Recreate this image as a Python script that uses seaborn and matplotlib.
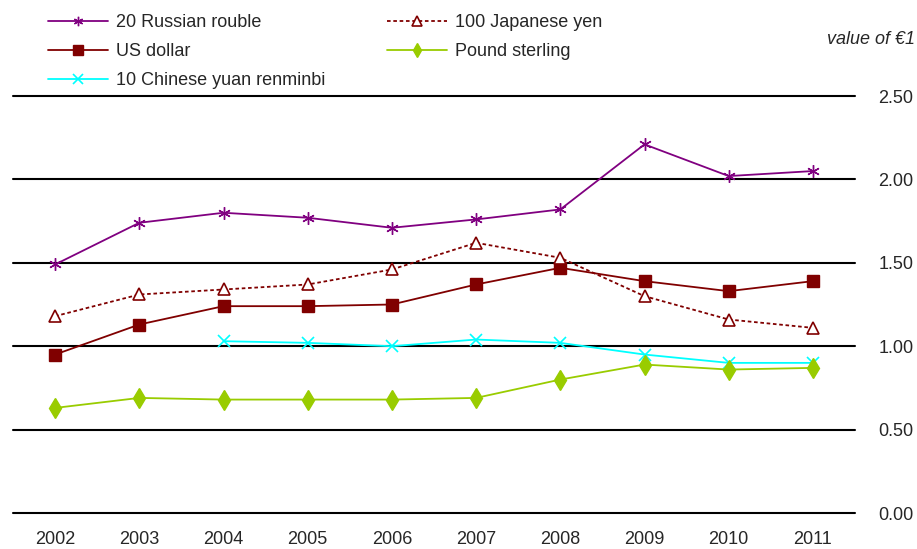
import matplotlib
matplotlib.use('Agg')

import numpy as np
import pandas as pd
import seaborn as sns
import matplotlib.pyplot as plt

years = [2002, 2003, 2004, 2005, 2006, 2007, 2008, 2009, 2010, 2011]
rouble_20 = [1.49, 1.74, 1.80, 1.77, 1.71, 1.76, 1.82, 2.21, 2.02, 2.05]
yen_100 = [1.18, 1.31, 1.34, 1.37, 1.46, 1.62, 1.53, 1.30, 1.16, 1.11]
us_dollar = [0.95, 1.13, 1.24, 1.24, 1.25, 1.37, 1.47, 1.39, 1.33, 1.39]
pound = [0.63, 0.69, 0.68, 0.68, 0.68, 0.69, 0.80, 0.89, 0.86, 0.87]
yuan_10 = [np.nan, np.nan, 1.03, 1.02, 1.00, 1.04, 1.02, 0.95, 0.90, 0.90]

series = [
    # name, values, colour, marker, linestyle, marker face
    ('20 Russian rouble', rouble_20, '#800080', (6, 2, 0), '-', None),
    ('US dollar', us_dollar, '#800000', 's', '-', None),
    ('10 Chinese yuan renminbi', yuan_10, '#00FFFF', 'x', '-', None),
    ('100 Japanese yen', yen_100, '#800000', '^', (0, (2, 1.5)), 'white'),
    ('Pound sterling', pound, '#99CC00', 'd', '-', None),
]

sns.set_style('white')
plt.rcParams['font.family'] = ['Liberation Sans', 'DejaVu Sans']
FS = 13

fig = plt.figure(figsize=(9.17, 5.49), dpi=100)
ax = fig.add_axes([13 / 917, 1 - 513 / 549, 842 / 917, 417 / 549])

pos = np.arange(len(years))
for name, vals, col, mk, ls, face in series:
    df = pd.DataFrame({'x': pos, 'y': vals})
    sns.lineplot(data=df, x='x', y='y', ax=ax, color=col, linestyle=ls,
                 marker=mk, markersize=9 if mk != 'd' else 10,
                 markerfacecolor=face if face else col,
                 markeredgecolor=col, markeredgewidth=1.2 if mk in ('x', '^') else 1.0,
                 linewidth=1.3, label=name)

for yv in np.arange(0, 2.51, 0.5):
    ax.axhline(yv, color='black', lw=1.5, zorder=0, clip_on=False)

ax.set_xlim(-0.5, len(years) - 0.5)
ax.set_ylim(0, 2.5)
ax.set_xticks(pos)
ax.set_xticklabels([str(y) for y in years], fontsize=FS)
ax.set_yticks(np.arange(0, 2.51, 0.5))
ax.set_yticklabels(['%.2f' % v for v in np.arange(0, 2.51, 0.5)], fontsize=FS)
ax.yaxis.tick_right()
ax.tick_params(axis='x', length=0, pad=13)
ax.tick_params(axis='y', length=0, pad=17)
ax.set_xlabel('')
ax.set_ylabel('')
for sp in ax.spines.values():
    sp.set_visible(False)

# legend in two separately placed columns, as in the reference
h, l = ax.get_legend_handles_labels()
ax.get_legend().remove()
leg_kw = dict(loc='upper left', frameon=False, fontsize=FS, borderpad=0,
              borderaxespad=0, handlelength=3.3, handletextpad=0.45,
              labelspacing=0.67, markerscale=0.75)
leg1 = fig.legend(h[:3], l[:3], bbox_to_anchor=(48 / 917, 1 - 14 / 549), **leg_kw)
leg2 = fig.legend(h[3:], l[3:], bbox_to_anchor=(387 / 917, 1 - 14 / 549), **leg_kw)

fig.text(915 / 917, 1 - 39 / 549, 'value of €1', ha='right', va='center',
         fontsize=FS, style='italic')

plt.savefig('out.png', dpi=100)
